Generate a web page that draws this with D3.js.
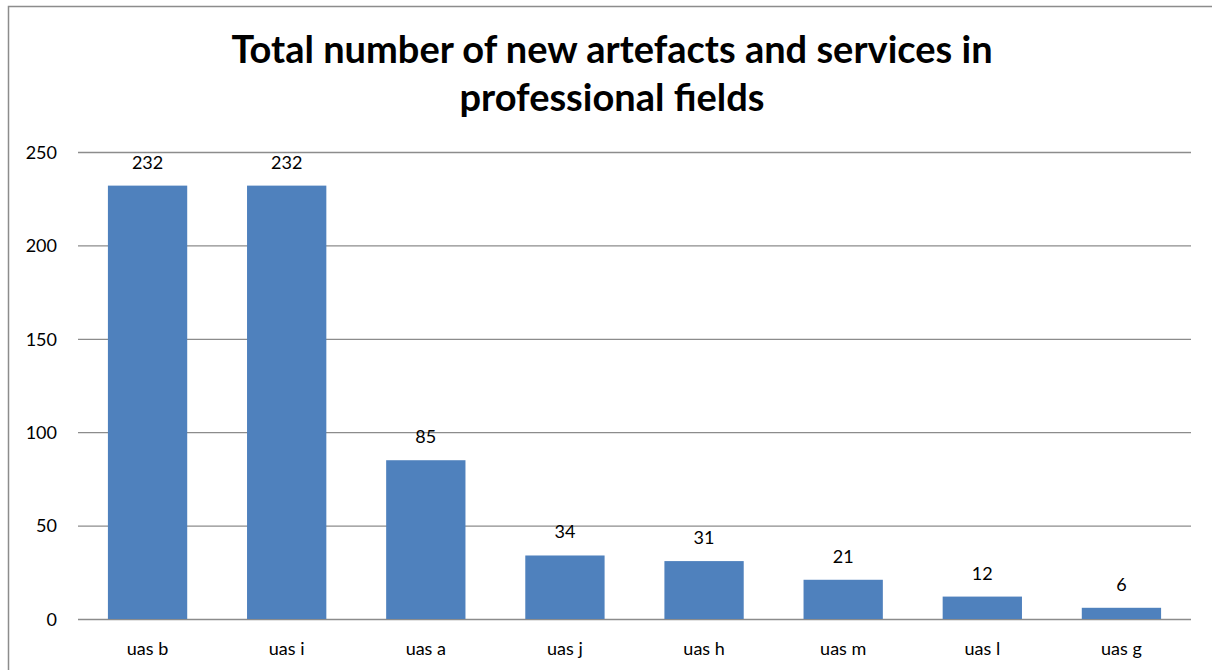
<!DOCTYPE html>
<html lang="en">
<head>
    <meta charset="UTF-8">
    <title>New artefacts and services</title>
    <script src="https://cdnjs.cloudflare.com/ajax/libs/d3/7.8.5/d3.min.js"></script>
    <style>
        body {
            margin: 0;
            background-color: white;
        }

        svg text {
            font-family: Lato, "Open Sans", sans-serif;
            fill: black;
        }
    </style>
</head>
<body>
<div id="chart"></div>
<script type="text/javascript">
    const institutions = ['uas b', 'uas i', 'uas a', 'uas j', 'uas h', 'uas m', 'uas l', 'uas g'];
    const artefacts = [232, 232, 85, 34, 31, 21, 12, 6];
    const yTicks = [0, 50, 100, 150, 200, 250];
    const titleLines = ['Total number of new artefacts and services in', 'professional fields'];

    const width = 1212;
    const height = 670;
    const margin = {top: 152, right: 21, bottom: 51, left: 78};

    const svg = d3.select('#chart')
        .append('svg')
        .attr('width', width)
        .attr('height', height);

    // outer frame of the chart area (runs off the right and bottom edges)
    svg.append('rect')
        .attr('x', 8.5)
        .attr('y', 6.5)
        .attr('width', 1300)
        .attr('height', 700)
        .attr('fill', 'white')
        .attr('stroke', '#8c8c8c')
        .attr('stroke-width', 1.5);

    svg.append('text')
        .selectAll('tspan')
        .data(titleLines)
        .join('tspan')
        .attr('x', 612)
        .attr('y', (d, i) => 63 + i * 48)
        .attr('text-anchor', 'middle')
        .style('font-size', '38px')
        .style('font-weight', 'bold')
        .text(d => d);

    const x = d3.scaleBand()
        .domain(institutions)
        .range([margin.left, width - margin.right])
        .paddingInner(0.43)
        .paddingOuter(0.215);

    const y = d3.scaleLinear()
        .domain([0, 250])
        .range([height - margin.bottom, margin.top]);

    // horizontal gridlines with value labels on the left
    const yAxis = d3.axisLeft(y)
        .tickValues(yTicks)
        .tickSize(-(width - margin.left - margin.right))
        .tickPadding(21);
    svg.append('g')
        .attr('transform', `translate(${margin.left}, 0)`)
        .call(yAxis)
        .call(g => g.select('.domain').remove())
        .call(g => g.selectAll('.tick line').attr('stroke', '#8c8c8c').attr('stroke-width', 1.3))
        .call(g => g.selectAll('.tick text').style('font-size', '18px').attr('dy', '0.35em'));

    svg.append('g')
        .selectAll('rect')
        .data(artefacts)
        .join('rect')
        .attr('x', (d, i) => x(institutions[i]))
        .attr('y', d => y(d))
        .attr('width', x.bandwidth())
        .attr('height', d => y(0) - y(d))
        .attr('fill', '#4f81bd');

    svg.append('g')
        .selectAll('text')
        .data(artefacts)
        .join('text')
        .attr('x', (d, i) => x(institutions[i]) + x.bandwidth() / 2)
        .attr('y', d => y(d) - 17)
        .attr('text-anchor', 'middle')
        .style('font-size', '18px')
        .text(d => d);

    const xAxis = d3.axisBottom(x).tickSize(0).tickPadding(23);
    svg.append('g')
        .attr('transform', `translate(0, ${height - margin.bottom})`)
        .call(xAxis)
        .call(g => g.select('.domain').remove())
        .call(g => g.selectAll('.tick text').style('font-size', '18px'));
</script>
</body>
</html>
